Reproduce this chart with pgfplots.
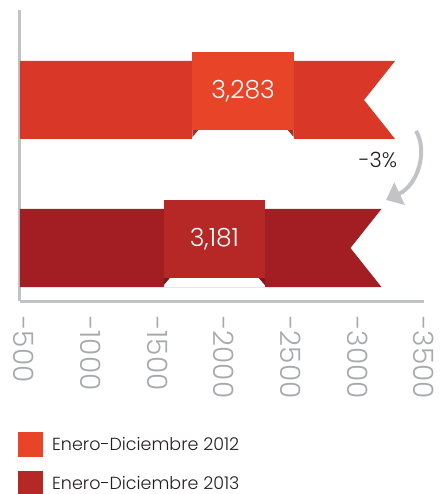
\documentclass[border=0pt]{standalone}
\usepackage{fontspec}
\setmainfont{Poppins}[UprightFont=* Light]
\usepackage{pgfplots}
\pgfplotsset{compat=1.18}
\usetikzlibrary{arrows.meta}

\definecolor{barA}{HTML}{D93829}
\definecolor{boxA}{HTML}{E84427}
\definecolor{foldA}{HTML}{A82B24}
\definecolor{barB}{HTML}{A21E23}
\definecolor{boxB}{HTML}{B52826}
\definecolor{foldB}{HTML}{7E171B}
\definecolor{axisgray}{HTML}{C2C3C7}
\definecolor{tickgray}{HTML}{A7A9AC}
\definecolor{textdark}{HTML}{231F20}

\begin{document}
\begin{tikzpicture}
\begin{axis}[
    scale only axis,
    width=404pt, height=291pt,
    xmin=470, xmax=3500,
    ymin=0, ymax=291,
    clip=false,
    axis x line*=bottom,
    axis y line*=left,
    axis line style={axisgray, line width=3pt, -},
    ytick=\empty,
    xtick={500,1000,1500,2000,2500,3000,3500},
    xticklabels={-500,-1000,-1500,-2000,-2500,-3000,-3500},
    major tick length=0pt,
    xticklabel style={rotate=-90, anchor=west, text=tickgray,
        font=\fontsize{28}{30}\selectfont, inner sep=0pt, xshift=15pt},
    legend style={draw=none, fill=none,
        at={(axis description cs:-0.005,-0.4502)}, anchor=north west,
        inner sep=0pt, row sep=14pt, column sep=9pt,
        font=\fontsize{17.5}{20}\selectfont, text=textdark,
        nodes={inner sep=0pt}},
    legend cell align=left,
    legend image code/.code={\fill[#1] (0pt,-12.5pt) rectangle (25pt,12.5pt);},
]
% 2012 ribbon
\addplot[fill=barA, draw=none, forget plot] coordinates {(470,162) (3283,162) (3050,201) (3283,240) (470,240)} -- cycle;
\addplot[fill=white, draw=none, forget plot] coordinates {(1763,162) (2523,162) (2523,171) (1763,171)} -- cycle;
\addplot[fill=foldA, draw=none, forget plot] coordinates {(1763,171) (1808,171) (1763,164)} -- cycle;
\addplot[fill=foldA, draw=none, forget plot] coordinates {(2523,171) (2478,171) (2523,164)} -- cycle;
\addplot[fill=boxA, draw=none, forget plot] coordinates {(1763,171) (2523,171) (2523,249) (1763,249)} -- cycle;
% 2013 ribbon
\addplot[fill=barB, draw=none, forget plot] coordinates {(470,14) (3181,14) (2948,53) (3181,92) (470,92)} -- cycle;
\addplot[fill=white, draw=none, forget plot] coordinates {(1549,14) (2306,14) (2306,23) (1549,23)} -- cycle;
\addplot[fill=foldB, draw=none, forget plot] coordinates {(1549,23) (1594,23) (1549,16)} -- cycle;
\addplot[fill=foldB, draw=none, forget plot] coordinates {(2306,23) (2261,23) (2306,16)} -- cycle;
\addplot[fill=boxB, draw=none, forget plot] coordinates {(1549,23) (2306,23) (2306,101) (1549,101)} -- cycle;

\node[text=white, font=\fontsize{25}{28}\selectfont] at (axis cs:2143,210) {3,283};
\node[text=white, font=\fontsize{25}{28}\selectfont] at (axis cs:1928,62) {3,181};

\addlegendimage{fill=boxA, draw=none}
\addlegendentry{Enero-Diciembre 2012}
\addlegendimage{fill=boxB, draw=none}
\addlegendentry{Enero-Diciembre 2013}
\end{axis}
\node[text=textdark, font=\fontsize{21}{24}\selectfont] at (358pt,141pt) {-3\%};
\draw[axisgray, line width=4pt, -{Triangle[length=15pt,width=24pt]}]
    (396pt,170pt) .. controls (408pt,150pt) and (398pt,116pt) .. (366pt,101pt);
\pgfresetboundingbox
\path[use as bounding box] (-20pt,-193pt) rectangle (423pt,301pt);
\end{tikzpicture}
\end{document}
